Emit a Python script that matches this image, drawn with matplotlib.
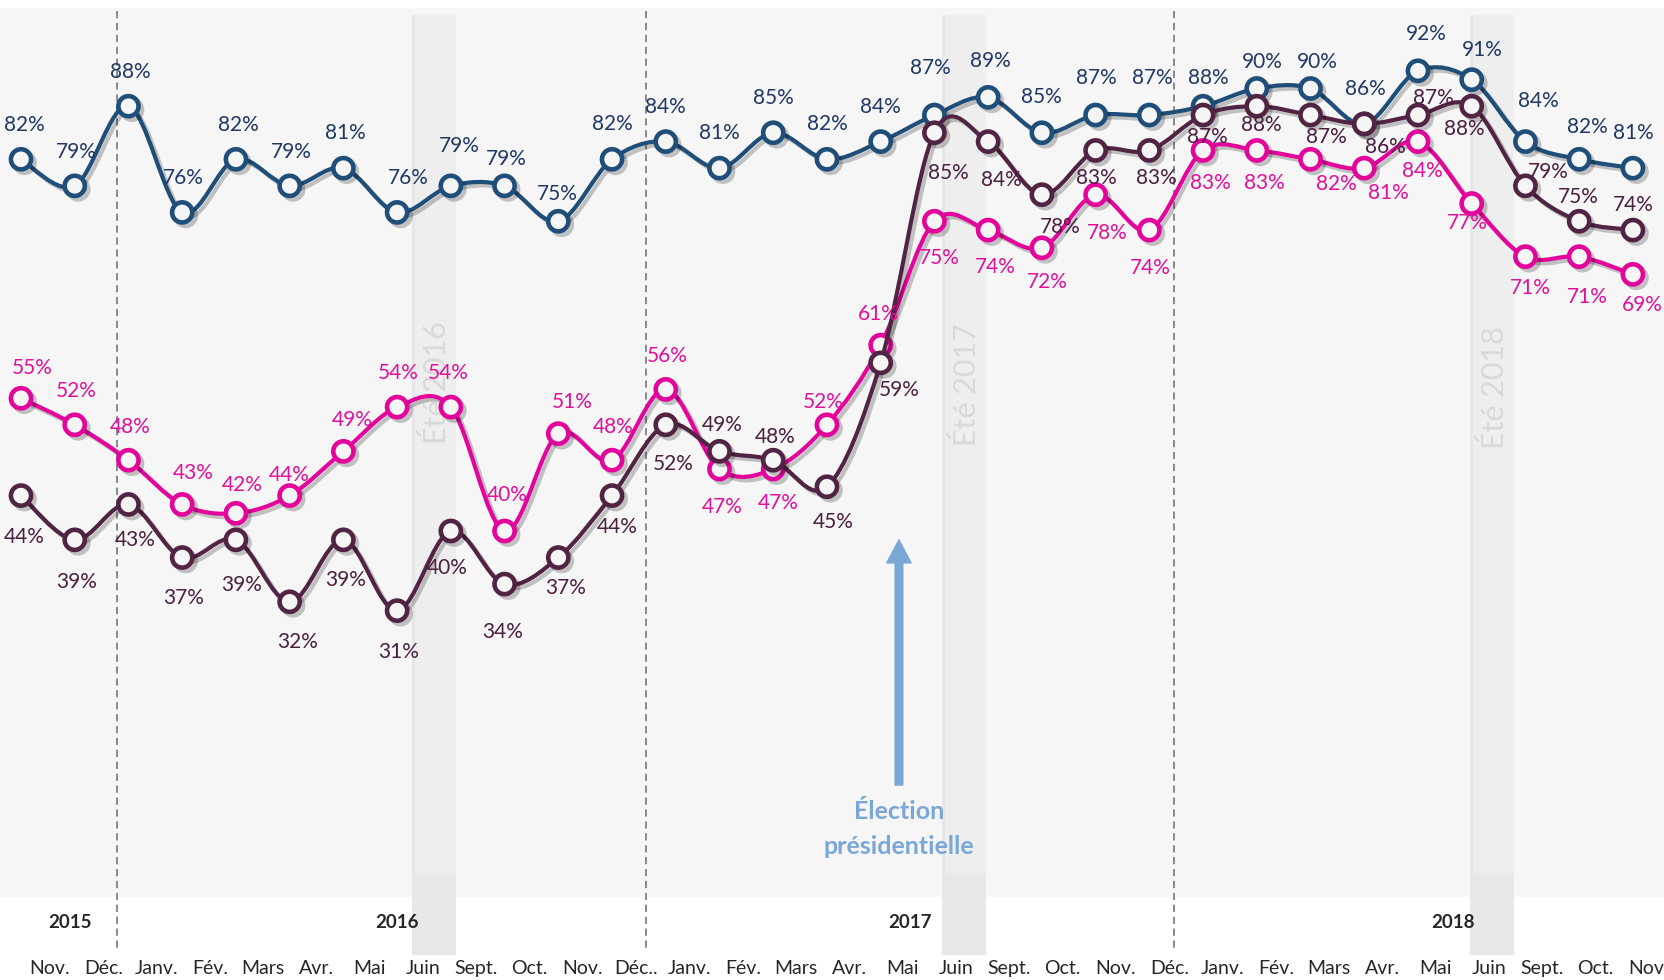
import numpy as np
import matplotlib
matplotlib.use("Agg")
import matplotlib.pyplot as plt
import matplotlib.patheffects as pe
from matplotlib.path import Path
from matplotlib.patches import PathPatch, Rectangle, FancyArrowPatch

plt.rcParams['font.family'] = ['Lato', 'DejaVu Sans']

# ---------------- data ----------------
months = ["Nov.", "Déc.", "Janv.", "Fév.", "Mars", "Avr.", "Mai", "Juin", "Sept.", "Oct.",
          "Nov.", "Déc..", "Janv.", "Fév.", "Mars", "Avr.", "Mai", "Juin", "Sept.", "Oct.",
          "Nov.", "Déc.", "Janv.", "Fév.", "Mars", "Avr.", "Mai", "Juin", "Sept.", "Oct.", "Nov."]
years = ["2015", "2016", "2017", "2018"]
summers = ["Été 2016", "Été 2017", "Été 2018"]

blue = [82, 79, 88, 76, 82, 79, 81, 76, 79, 79, 75, 82, 84, 81, 85, 82, 84, 87, 89, 85,
        87, 87, 88, 90, 90, 86, 92, 91, 84, 82, 81]
pink = [55, 52, 48, 43, 42, 44, 49, 54, 54, 40, 51, 48, 56, 47, 47, 52, 61, 75, 74, 72,
        78, 74, 83, 83, 82, 81, 84, 77, 71, 71, 69]
dark = [44, 39, 43, 37, 39, 32, 39, 31, 40, 34, 37, 44, 52, 49, 48, 45, 59, 85, 84, 78,
        83, 83, 87, 88, 87, 86, 87, 88, 79, 75, 74]

# ---------------- layout (label offsets in pixels) ----------------
blue_off = [(3, 34), (2, 34), (2, 34), (1, 34), (2, 34), (2, 34), (2, 35), (11, 34), (8, 40), (2, 27),
            (-1, 27), (0, 35), (0, 35), (0, 35), (0, 35), (0, 35), (0, 35), (-4, 47), (2, 36), (0, 36),
            (1, 37), (3, 37), (5, 28), (6, 27), (7, 27), (1, 35), (8, 37), (11, 30), (13, 41), (8, 32), (0, 35)]
pink_off = [(11, 30), (2, 34), (2, 33), (11, 31), (6, 28), (0, 21), (9, 31), (1, 34), (-3, 34), (3, 36),
            (14, 32), (1, 33), (1, 33), (3, -38), (5, -34), (-4, 23), (-2, 31), (5, -37), (7, -37), (5, -34),
            (12, -38), (1, -38), (7, -33), (8, -33), (26, -25), (24, -25), (4, -29), (-4, -19), (5, -31), (8, -40), (9, -31)]
dark_off = [(3, -41), (2, -42), (7, -36), (1, -40), (6, -45), (8, -40), (2, -40), (1, -41), (-4, -37), (-2, -48),
            (7, -30), (5, -31), (7, -39), (3, 26), (2, 23), (6, -35), (19, -27), (14, -40), (13, -38), (18, -32),
            (1, -28), (7, -28), (4, -22), (5, -19), (16, -22), (21, -23), (15, 17), (-7, -23), (23, 14), (-1, 24), (0, 25)]

C_BLUE, C_BLUE_T = "#1f4e79", "#203864"
C_PINK, C_PINK_T = "#e2049b", "#e0119a"
C_DARK, C_DARK_T = "#512443", "#4b1f3f"
BG = "#f6f6f6"

fig = plt.figure(figsize=(16.65, 9.8), dpi=100)
ax = fig.add_axes([0, 0, 1, 1])
ax.axis('off')

# pixel mapping: x_px = 21 + 53.73*i ; y_px = 885 - 8.85*v
ax.set_xlim(-21 / 53.73, (1665 - 21) / 53.73)
ax.set_ylim((885 - 980) / 8.85, 885 / 8.85)

# background panel
ax.add_patch(Rectangle((-1, -1.36), 33, 100.45, facecolor=BG, edgecolor='none', zorder=0))

# summer bands
for x0 in [7.28, 17.14, 26.97]:
    ax.add_patch(Rectangle((x0, 1.36), 0.82, 96.9, facecolor="#eeeeee", edgecolor='none', zorder=0.5))
    ax.add_patch(Rectangle((x0, -7.9), 0.82, 9.26, facecolor="#e7e8ea", edgecolor='none', zorder=0.5))
    ax.plot([x0 + 0.025, x0 + 0.025], [1.36, 98.3], color="#e6e6e8", lw=2.2, zorder=0.6,
            solid_capstyle='butt')

for xs, ys, txt in zip([7.74, 17.59, 27.43], [56.8, 56.6, 56.2], summers):
    ax.text(xs, ys, txt, rotation=90, ha='center', va='center', fontsize=22,
            color="#d9d9d9", zorder=0.8)

# dashed year separators
for xd in [1.787, 11.63, 21.46]:
    ax.plot([xd, xd], [98.8, -7.3], color="#808080", lw=1.3, ls=(0, (4, 2.6)), zorder=1)

# x labels
xi = np.arange(len(months))
for i, m in enumerate(months):
    ax.text(0.54 + 0.992 * i, -9.4, m, ha='center', va='center', fontsize=14, color="#262626")
for xpos, yr in zip([0.91, 7.0, 16.55, 26.65], years):
    ax.text(xpos, -4.29, yr, ha='center', va='center', fontsize=13.5, fontweight='bold', color="#262626")


def smooth_path(x, y):
    n = len(x)
    verts = [(x[0], y[0])]
    codes = [Path.MOVETO]
    for i in range(n - 1):
        a = i - 1 if i > 0 else i
        d = i + 2 if i + 2 < n else i + 1
        c1 = (x[i] + (x[i + 1] - x[a]) / 6.0, y[i] + (y[i + 1] - y[a]) / 6.0)
        c2 = (x[i + 1] - (x[d] - x[i]) / 6.0, y[i + 1] - (y[d] - y[i]) / 6.0)
        verts += [c1, c2, (x[i + 1], y[i + 1])]
        codes += [Path.CURVE4] * 3
    return Path(verts, codes)


shadow = [pe.SimpleLineShadow(offset=(2.5, -2.5), shadow_color='k', alpha=0.22), pe.Normal()]

for vals, col, z in [(pink, C_PINK, 3), (blue, C_BLUE, 4), (dark, C_DARK, 5)]:
    v = np.array(vals, dtype=float)
    patch = PathPatch(smooth_path(xi.astype(float), v), facecolor='none', edgecolor=col,
                      lw=3.0, zorder=z, capstyle='round', joinstyle='round')
    patch.set_path_effects(shadow)
    ax.add_patch(patch)
    ax.plot(xi, v, 'o', ls='none', ms=14.5, mew=3.3, mfc="#f5f5f5", mec=col, zorder=z + 0.5,
            path_effects=shadow)

for vals, offs, col in [(blue, blue_off, C_BLUE_T), (pink, pink_off, C_PINK_T), (dark, dark_off, C_DARK_T)]:
    for i, (val, (dx, dy)) in enumerate(zip(vals, offs)):
        ax.annotate(f"{val}%", xy=(i, val), xytext=(dx, dy), textcoords='offset pixels',
                    ha='center', va='center', fontsize=15, color=col, zorder=10)

# election arrow
arr = FancyArrowPatch((16.34, 11.3), (16.34, 39.0),
                      arrowstyle='simple,head_length=1.66,head_width=1.75,tail_width=0.55',
                      mutation_scale=10, color="#7aa7d6", shrinkA=0, shrinkB=0, zorder=6)
ax.add_patch(arr)
ax.text(16.34, 8.25, "Élection", ha='center', va='center', fontsize=18, fontweight='bold', color="#7aa7d6")
ax.text(16.34, 4.4, "présidentielle", ha='center', va='center', fontsize=18, fontweight='bold', color="#7aa7d6")

fig.savefig("out.png", dpi=100, facecolor='white')
